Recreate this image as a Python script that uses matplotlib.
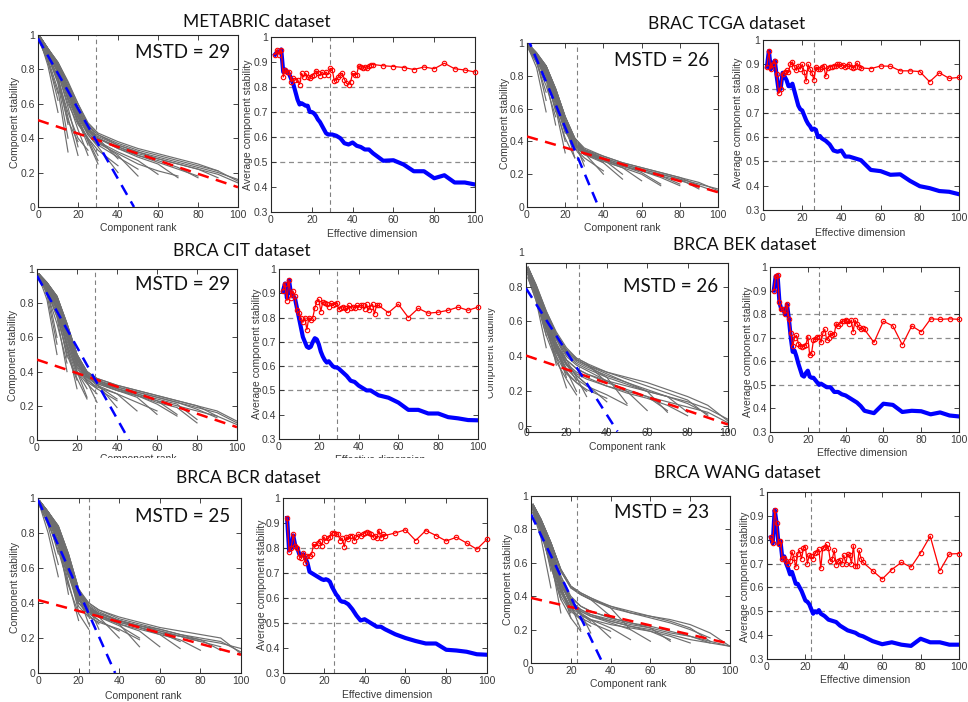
import matplotlib
matplotlib.use("Agg")
import matplotlib.pyplot as plt
from matplotlib.transforms import Bbox

plt.rcParams['font.family'] = ['Liberation Sans', 'DejaVu Sans']

# ---------------- data ----------------
red_x = list(range(2, 51)) + list(range(55, 101, 5))
blue_x = list(range(2, 31)) + list(range(32, 51, 2)) + list(range(55, 101, 5))
gray_knots = [1, 5, 10, 15, 20, 25, 30, 40, 50, 60, 70, 80, 90, 100]
left_xticks = [0, 20, 40, 60, 80, 100]

titles = ["METABRIC dataset", "BRAC TCGA dataset", "BRCA CIT dataset",
          "BRCA BEK dataset", "BRCA BCR dataset", "BRCA WANG dataset"]
mstd_values = [29, 26, 29, 26, 25, 23]

metabric_red = [0.93, 0.95, 0.93, 0.95, 0.84, 0.87, 0.86, 0.86, 0.82,
                0.835, 0.83, 0.83, 0.81, 0.855, 0.84, 0.855, 0.84, 0.835, 0.845,
                0.85, 0.865, 0.855, 0.845, 0.86, 0.85, 0.86, 0.85, 0.875, 0.87,
                0.825, 0.83, 0.84, 0.85, 0.855, 0.83, 0.815, 0.81, 0.82, 0.855,
                0.85, 0.85, 0.885, 0.88, 0.875, 0.88, 0.875, 0.885, 0.89, 0.89,
                0.885, 0.882, 0.878, 0.87, 0.88, 0.873, 0.895, 0.873, 0.868, 0.86]
metabric_blue = [0.93, 0.94, 0.94, 0.95, 0.86, 0.87, 0.86, 0.85, 0.83,
                 0.81, 0.78, 0.75, 0.73, 0.735, 0.73, 0.725, 0.725, 0.70, 0.70,
                 0.695, 0.685, 0.67, 0.66, 0.645, 0.63, 0.615, 0.61, 0.61, 0.61,
                 0.605, 0.595, 0.575, 0.57, 0.578, 0.565, 0.56, 0.55, 0.55, 0.535,
                 0.505, 0.507, 0.49, 0.463, 0.463, 0.435, 0.447, 0.418, 0.418, 0.41]
metabric_gray = [
    [0.97, 0.82, 0.55],
    [0.95, 0.85, 0.62],
    [0.96, 0.84, 0.66],
    [0.98, 0.88, 0.72, 0.40],
    [0.96, 0.86, 0.68, 0.32],
    [0.98, 0.89, 0.75, 0.48],
    [0.98, 0.90, 0.78, 0.58, 0.35],
    [0.99, 0.88, 0.76, 0.52, 0.30],
    [0.97, 0.88, 0.72, 0.50, 0.38],
    [0.98, 0.90, 0.80, 0.62, 0.45, 0.30],
    [0.97, 0.87, 0.74, 0.55, 0.40, 0.33],
    [0.99, 0.91, 0.81, 0.66, 0.50, 0.36],
    [0.99, 0.91, 0.82, 0.66, 0.52, 0.38, 0.25],
    [0.98, 0.89, 0.78, 0.60, 0.48, 0.40, 0.30],
    [0.98, 0.90, 0.79, 0.63, 0.49, 0.39, 0.27],
    [0.99, 0.92, 0.83, 0.70, 0.55, 0.42, 0.35, 0.20],
    [0.98, 0.90, 0.80, 0.64, 0.50, 0.40, 0.33, 0.24],
    [0.99, 0.92, 0.84, 0.73, 0.60, 0.48, 0.40, 0.28],
    [0.99, 0.92, 0.84, 0.72, 0.58, 0.45, 0.38, 0.30, 0.18],
    [0.98, 0.90, 0.80, 0.66, 0.52, 0.42, 0.36, 0.29, 0.22],
    [0.99, 0.91, 0.82, 0.68, 0.55, 0.44, 0.38, 0.32, 0.27, 0.19],
    [0.99, 0.92, 0.83, 0.70, 0.57, 0.46, 0.40, 0.34, 0.29, 0.25, 0.17],
    [0.98, 0.91, 0.81, 0.67, 0.53, 0.43, 0.37, 0.31, 0.25, 0.21, 0.18],
    [0.99, 0.91, 0.80, 0.66, 0.54, 0.45, 0.40, 0.35, 0.30, 0.27, 0.23, 0.17],
    [0.99, 0.91, 0.82, 0.69, 0.56, 0.46, 0.40, 0.34, 0.30, 0.26, 0.22, 0.18],
    [0.99, 0.92, 0.83, 0.70, 0.58, 0.48, 0.42, 0.36, 0.32, 0.28, 0.25, 0.22, 0.17],
    [0.99, 0.92, 0.84, 0.72, 0.60, 0.49, 0.43, 0.38, 0.34, 0.31, 0.28, 0.25, 0.21],
    [0.99, 0.92, 0.82, 0.70, 0.57, 0.47, 0.42, 0.37, 0.33, 0.30, 0.27, 0.24, 0.21, 0.15],
    [0.98, 0.90, 0.80, 0.66, 0.53, 0.44, 0.40, 0.35, 0.31, 0.28, 0.25, 0.22, 0.19, 0.14],
    [0.98, 0.91, 0.81, 0.68, 0.55, 0.45, 0.41, 0.36, 0.32, 0.29, 0.26, 0.23, 0.20, 0.16],
]
metabric_fit_blue = ([0, 48], [0.98, 0.0])
metabric_fit_red = ([0, 100], [0.505, 0.115])

tcga_red = [0.89, 0.955, 0.88, 0.90, 0.915, 0.86, 0.78, 0.80, 0.86,
            0.87, 0.875, 0.87, 0.90, 0.91, 0.89, 0.875, 0.895, 0.88, 0.90,
            0.87, 0.83, 0.90, 0.88, 0.865, 0.835, 0.89, 0.88, 0.88, 0.89,
            0.895, 0.85, 0.885, 0.89, 0.89, 0.895, 0.893, 0.90, 0.90, 0.895,
            0.897, 0.89, 0.895, 0.902, 0.89, 0.885, 0.89, 0.905, 0.89, 0.885,
            0.882, 0.893, 0.892, 0.873, 0.873, 0.87, 0.828, 0.865, 0.842, 0.846]
tcga_blue = [0.89, 0.955, 0.88, 0.90, 0.915, 0.85, 0.79, 0.80, 0.865,
             0.85, 0.835, 0.81, 0.81, 0.82, 0.79, 0.76, 0.73, 0.715, 0.71,
             0.69, 0.67, 0.655, 0.645, 0.63, 0.635, 0.63, 0.60, 0.605, 0.595,
             0.585, 0.57, 0.545, 0.54, 0.545, 0.52, 0.52, 0.515, 0.51, 0.505,
             0.465, 0.46, 0.445, 0.447, 0.42, 0.398, 0.39, 0.378, 0.375, 0.365]
tcga_gray = [
    [0.96, 0.85, 0.58],
    [0.97, 0.90, 0.65],
    [0.97, 0.88, 0.70],
    [0.98, 0.90, 0.78, 0.50],
    [0.96, 0.88, 0.74, 0.55],
    [0.99, 0.92, 0.80, 0.58],
    [0.99, 0.92, 0.82, 0.62, 0.40],
    [0.97, 0.90, 0.80, 0.60, 0.33],
    [0.98, 0.91, 0.81, 0.64, 0.45],
    [0.99, 0.93, 0.84, 0.68, 0.50, 0.30],
    [0.97, 0.89, 0.78, 0.60, 0.42, 0.30],
    [0.99, 0.94, 0.86, 0.72, 0.55, 0.40],
    [0.99, 0.93, 0.85, 0.70, 0.52, 0.40, 0.25],
    [0.98, 0.91, 0.80, 0.64, 0.46, 0.36, 0.28],
    [0.98, 0.92, 0.83, 0.67, 0.50, 0.39, 0.32],
    [0.99, 0.93, 0.85, 0.70, 0.52, 0.39, 0.33, 0.20],
    [0.98, 0.92, 0.82, 0.66, 0.47, 0.36, 0.30, 0.22],
    [0.99, 0.93, 0.86, 0.72, 0.55, 0.42, 0.35, 0.27],
    [0.99, 0.92, 0.83, 0.67, 0.48, 0.37, 0.32, 0.27, 0.17],
    [0.98, 0.93, 0.86, 0.72, 0.55, 0.42, 0.35, 0.29, 0.20],
    [0.99, 0.93, 0.84, 0.68, 0.50, 0.38, 0.33, 0.28, 0.24, 0.16],
    [0.99, 0.92, 0.82, 0.66, 0.47, 0.37, 0.32, 0.28, 0.24, 0.20, 0.13],
    [0.98, 0.92, 0.82, 0.66, 0.49, 0.39, 0.34, 0.29, 0.25, 0.21, 0.14],
    [0.99, 0.93, 0.85, 0.70, 0.52, 0.40, 0.34, 0.29, 0.25, 0.22, 0.19, 0.14],
    [0.98, 0.93, 0.84, 0.69, 0.51, 0.40, 0.34, 0.29, 0.25, 0.22, 0.18, 0.13],
    [0.99, 0.93, 0.84, 0.68, 0.50, 0.39, 0.34, 0.30, 0.26, 0.23, 0.20, 0.17, 0.11],
    [0.99, 0.94, 0.86, 0.71, 0.53, 0.41, 0.35, 0.31, 0.27, 0.24, 0.21, 0.18, 0.13],
    [0.99, 0.94, 0.86, 0.72, 0.55, 0.42, 0.36, 0.31, 0.27, 0.24, 0.21, 0.18, 0.15, 0.10],
    [0.98, 0.92, 0.82, 0.66, 0.48, 0.38, 0.33, 0.29, 0.25, 0.22, 0.19, 0.16, 0.13, 0.09],
    [0.98, 0.92, 0.83, 0.68, 0.51, 0.40, 0.35, 0.30, 0.26, 0.23, 0.20, 0.17, 0.14, 0.11],
]
tcga_fit_blue = ([0, 37.5], [1.04, 0.0])
tcga_fit_red = ([0, 100], [0.43, 0.09])

cit_red = [0.91, 0.94, 0.87, 0.955, 0.88, 0.91, 0.89, 0.83, 0.82,
           0.80, 0.78, 0.80, 0.75, 0.80, 0.79, 0.80, 0.84, 0.865, 0.875,
           0.825, 0.865, 0.86, 0.855, 0.845, 0.86, 0.85, 0.855, 0.86, 0.835,
           0.84, 0.845, 0.84, 0.83, 0.85, 0.84, 0.845, 0.84, 0.85, 0.845,
           0.85, 0.85, 0.835, 0.855, 0.83, 0.845, 0.855, 0.815, 0.85, 0.85,
           0.82, 0.855, 0.80, 0.838, 0.818, 0.822, 0.83, 0.843, 0.83, 0.843]
cit_blue = [0.91, 0.94, 0.88, 0.955, 0.90, 0.89, 0.88, 0.84, 0.80,
            0.76, 0.72, 0.70, 0.68, 0.675, 0.68, 0.70, 0.715, 0.71, 0.69,
            0.66, 0.64, 0.625, 0.615, 0.62, 0.61, 0.60, 0.595, 0.595, 0.59,
            0.575, 0.56, 0.54, 0.535, 0.52, 0.51, 0.50, 0.50, 0.49, 0.48,
            0.47, 0.45, 0.42, 0.42, 0.405, 0.405, 0.39, 0.385, 0.378, 0.377]
cit_gray = [
    [0.95, 0.82, 0.50],
    [0.96, 0.88, 0.60],
    [0.96, 0.85, 0.56],
    [0.96, 0.88, 0.72, 0.40],
    [0.95, 0.86, 0.68, 0.45],
    [0.97, 0.90, 0.76, 0.48],
    [0.97, 0.90, 0.78, 0.55, 0.30],
    [0.96, 0.88, 0.74, 0.50, 0.35],
    [0.97, 0.89, 0.76, 0.54, 0.38],
    [0.97, 0.91, 0.80, 0.60, 0.40, 0.25],
    [0.95, 0.87, 0.72, 0.52, 0.36, 0.24],
    [0.96, 0.89, 0.77, 0.56, 0.40, 0.30],
    [0.97, 0.91, 0.82, 0.64, 0.46, 0.34, 0.22],
    [0.96, 0.89, 0.76, 0.56, 0.40, 0.33, 0.27],
    [0.97, 0.90, 0.80, 0.61, 0.44, 0.36, 0.30],
    [0.97, 0.92, 0.84, 0.68, 0.50, 0.38, 0.33, 0.19],
    [0.96, 0.90, 0.78, 0.58, 0.42, 0.34, 0.30, 0.23],
    [0.97, 0.91, 0.81, 0.62, 0.45, 0.37, 0.32, 0.24],
    [0.97, 0.91, 0.82, 0.65, 0.47, 0.37, 0.32, 0.27, 0.17],
    [0.97, 0.92, 0.83, 0.66, 0.48, 0.38, 0.34, 0.29, 0.25, 0.15],
    [0.96, 0.90, 0.78, 0.60, 0.43, 0.35, 0.31, 0.27, 0.22, 0.17],
    [0.97, 0.92, 0.84, 0.68, 0.50, 0.40, 0.35, 0.30, 0.27, 0.23, 0.15],
    [0.96, 0.91, 0.81, 0.64, 0.47, 0.38, 0.34, 0.30, 0.26, 0.21, 0.14],
    [0.97, 0.91, 0.80, 0.62, 0.45, 0.37, 0.33, 0.29, 0.26, 0.22, 0.19, 0.10],
    [0.97, 0.91, 0.82, 0.64, 0.47, 0.38, 0.34, 0.30, 0.27, 0.24, 0.21, 0.12],
    [0.97, 0.92, 0.83, 0.66, 0.49, 0.39, 0.35, 0.31, 0.28, 0.25, 0.22, 0.18, 0.13],
    [0.97, 0.92, 0.84, 0.67, 0.50, 0.40, 0.36, 0.32, 0.29, 0.26, 0.23, 0.20, 0.14],
    [0.97, 0.92, 0.84, 0.68, 0.50, 0.40, 0.36, 0.32, 0.29, 0.26, 0.23, 0.20, 0.17, 0.11],
    [0.96, 0.90, 0.80, 0.62, 0.45, 0.37, 0.33, 0.29, 0.26, 0.23, 0.20, 0.17, 0.14, 0.09],
    [0.96, 0.91, 0.82, 0.65, 0.48, 0.39, 0.35, 0.31, 0.28, 0.25, 0.22, 0.19, 0.16, 0.10],
]
cit_fit_blue = ([0, 46], [0.96, 0.0])
cit_fit_red = ([0, 100], [0.47, 0.075])

bek_red = [0.90, 0.96, 0.965, 0.85, 0.82, 0.82, 0.80, 0.845, 0.78,
           0.72, 0.665, 0.70, 0.71, 0.675, 0.665, 0.66, 0.665, 0.67, 0.705,
           0.625, 0.635, 0.69, 0.695, 0.705, 0.705, 0.68, 0.72, 0.735, 0.69,
           0.70, 0.72, 0.71, 0.715, 0.76, 0.75, 0.76, 0.77, 0.77, 0.775,
           0.77, 0.76, 0.775, 0.725, 0.775, 0.76, 0.745, 0.735, 0.74, 0.735,
           0.68, 0.77, 0.75, 0.67, 0.75, 0.725, 0.78, 0.778, 0.78, 0.778]
bek_blue = [0.90, 0.96, 0.965, 0.85, 0.82, 0.82, 0.80, 0.84, 0.78,
            0.70, 0.64, 0.645, 0.62, 0.59, 0.565, 0.54, 0.535, 0.55, 0.56,
            0.535, 0.53, 0.53, 0.52, 0.51, 0.50, 0.505, 0.50, 0.495, 0.49,
            0.49, 0.47, 0.47, 0.46, 0.455, 0.445, 0.435, 0.425, 0.41, 0.39,
            0.38, 0.42, 0.415, 0.385, 0.39, 0.388, 0.375, 0.383, 0.37, 0.366]
bek_gray = [
    [0.85, 0.72, 0.45],
    [0.88, 0.75, 0.52],
    [0.87, 0.76, 0.56],
    [0.90, 0.78, 0.60, 0.35],
    [0.86, 0.74, 0.55, 0.38],
    [0.89, 0.77, 0.58, 0.42],
    [0.91, 0.80, 0.63, 0.45, 0.28],
    [0.87, 0.75, 0.56, 0.40, 0.22],
    [0.88, 0.78, 0.60, 0.43, 0.32],
    [0.90, 0.78, 0.60, 0.45, 0.32, 0.20],
    [0.85, 0.72, 0.52, 0.37, 0.27, 0.18],
    [0.90, 0.80, 0.63, 0.48, 0.36, 0.26],
    [0.91, 0.80, 0.64, 0.50, 0.38, 0.28, 0.17],
    [0.88, 0.76, 0.58, 0.42, 0.31, 0.25, 0.20],
    [0.89, 0.78, 0.61, 0.46, 0.35, 0.29, 0.24],
    [0.90, 0.79, 0.62, 0.47, 0.36, 0.29, 0.24, 0.14],
    [0.87, 0.74, 0.55, 0.40, 0.30, 0.25, 0.21, 0.16],
    [0.91, 0.81, 0.66, 0.54, 0.45, 0.39, 0.36, 0.25],
    [0.91, 0.80, 0.65, 0.52, 0.43, 0.38, 0.35, 0.28, 0.13],
    [0.88, 0.76, 0.58, 0.44, 0.33, 0.27, 0.23, 0.18, 0.12],
    [0.90, 0.79, 0.63, 0.50, 0.40, 0.35, 0.32, 0.26, 0.20, 0.09],
    [0.91, 0.80, 0.65, 0.52, 0.43, 0.38, 0.35, 0.30, 0.25, 0.20, 0.08],
    [0.89, 0.78, 0.61, 0.47, 0.38, 0.33, 0.30, 0.25, 0.21, 0.17, 0.09],
    [0.89, 0.77, 0.60, 0.46, 0.36, 0.31, 0.28, 0.23, 0.19, 0.16, 0.12, 0.06],
    [0.90, 0.80, 0.64, 0.51, 0.42, 0.37, 0.34, 0.29, 0.25, 0.21, 0.17, 0.08],
    [0.91, 0.81, 0.66, 0.53, 0.44, 0.39, 0.36, 0.31, 0.27, 0.23, 0.19, 0.15, 0.06],
    [0.90, 0.79, 0.63, 0.50, 0.41, 0.36, 0.33, 0.28, 0.24, 0.20, 0.17, 0.13, 0.07],
    [0.91, 0.80, 0.65, 0.52, 0.43, 0.38, 0.35, 0.31, 0.28, 0.25, 0.21, 0.17, 0.12, 0.03],
    [0.88, 0.76, 0.58, 0.44, 0.35, 0.30, 0.27, 0.23, 0.20, 0.17, 0.14, 0.11, 0.08, 0.02],
    [0.89, 0.77, 0.60, 0.47, 0.38, 0.33, 0.30, 0.26, 0.23, 0.20, 0.17, 0.14, 0.10, 0.04],
]
bek_fit_blue = ([0, 45.3], [0.79, -0.03])
bek_fit_red = ([0, 100], [0.405, 0.01])

bcr_red = [0.92, 0.785, 0.80, 0.855, 0.81, 0.80, 0.765, 0.76, 0.78,
           0.74, 0.77, 0.77, 0.775, 0.815, 0.81, 0.82, 0.83, 0.81, 0.845,
           0.83, 0.84, 0.845, 0.86, 0.862, 0.855, 0.855, 0.83, 0.84, 0.805,
           0.845, 0.835, 0.85, 0.85, 0.83, 0.845, 0.855, 0.85, 0.855, 0.86,
           0.865, 0.86, 0.855, 0.845, 0.85, 0.84, 0.87, 0.84, 0.855, 0.85,
           0.86, 0.873, 0.83, 0.87, 0.85, 0.828, 0.843, 0.82, 0.795, 0.835]
bcr_blue = [0.92, 0.79, 0.80, 0.85, 0.81, 0.80, 0.775, 0.77, 0.775,
            0.76, 0.74, 0.705, 0.70, 0.695, 0.69, 0.685, 0.68, 0.675, 0.672,
            0.675, 0.672, 0.665, 0.645, 0.63, 0.615, 0.605, 0.59, 0.585, 0.585,
            0.575, 0.555, 0.53, 0.51, 0.515, 0.505, 0.495, 0.485, 0.485, 0.475,
            0.455, 0.44, 0.428, 0.418, 0.418, 0.393, 0.39, 0.385, 0.375, 0.373]
bcr_gray = [
    [0.95, 0.80, 0.55],
    [0.96, 0.88, 0.68],
    [0.96, 0.84, 0.62],
    [0.97, 0.90, 0.76, 0.45],
    [0.95, 0.86, 0.70, 0.50],
    [0.97, 0.88, 0.73, 0.55],
    [0.98, 0.91, 0.80, 0.60, 0.35],
    [0.96, 0.88, 0.75, 0.52, 0.30],
    [0.97, 0.90, 0.78, 0.56, 0.40],
    [0.98, 0.92, 0.82, 0.64, 0.44, 0.28],
    [0.95, 0.85, 0.72, 0.50, 0.34, 0.25],
    [0.98, 0.91, 0.80, 0.62, 0.42, 0.33],
    [0.98, 0.92, 0.84, 0.68, 0.48, 0.38, 0.25],
    [0.96, 0.89, 0.78, 0.58, 0.40, 0.33, 0.28],
    [0.97, 0.90, 0.79, 0.60, 0.42, 0.35, 0.30],
    [0.98, 0.92, 0.83, 0.66, 0.46, 0.37, 0.32, 0.20],
    [0.97, 0.89, 0.78, 0.58, 0.40, 0.34, 0.30, 0.24],
    [0.98, 0.92, 0.84, 0.68, 0.48, 0.38, 0.33, 0.28, 0.15],
    [0.96, 0.88, 0.76, 0.56, 0.38, 0.32, 0.29, 0.25, 0.19],
    [0.98, 0.91, 0.81, 0.62, 0.43, 0.36, 0.32, 0.27, 0.20],
    [0.98, 0.91, 0.82, 0.64, 0.45, 0.37, 0.33, 0.28, 0.24, 0.15],
    [0.98, 0.92, 0.83, 0.66, 0.47, 0.39, 0.35, 0.30, 0.26, 0.22, 0.14],
    [0.97, 0.91, 0.81, 0.62, 0.44, 0.37, 0.33, 0.29, 0.26, 0.23, 0.18],
    [0.97, 0.90, 0.80, 0.60, 0.42, 0.35, 0.32, 0.28, 0.25, 0.22, 0.19, 0.13],
    [0.98, 0.91, 0.82, 0.64, 0.45, 0.38, 0.34, 0.30, 0.27, 0.24, 0.21, 0.18],
    [0.98, 0.92, 0.84, 0.68, 0.48, 0.40, 0.36, 0.31, 0.28, 0.25, 0.22, 0.19, 0.13],
    [0.98, 0.92, 0.82, 0.65, 0.46, 0.38, 0.34, 0.30, 0.27, 0.24, 0.21, 0.18, 0.15],
    [0.98, 0.92, 0.83, 0.66, 0.47, 0.40, 0.36, 0.32, 0.29, 0.26, 0.24, 0.22, 0.20, 0.11],
    [0.97, 0.90, 0.80, 0.62, 0.43, 0.36, 0.33, 0.29, 0.26, 0.23, 0.21, 0.19, 0.17, 0.14],
    [0.97, 0.91, 0.81, 0.63, 0.45, 0.38, 0.34, 0.30, 0.27, 0.25, 0.22, 0.20, 0.18, 0.12],
]
bcr_fit_blue = ([0, 38], [0.99, 0.0])
bcr_fit_red = ([0, 100], [0.417, 0.104])

wang_red = [0.81, 0.785, 0.925, 0.87, 0.78, 0.795, 0.72, 0.725, 0.71,
            0.70, 0.71, 0.75, 0.725, 0.685, 0.74, 0.755, 0.72, 0.765, 0.77,
            0.70, 0.735, 0.73, 0.72, 0.745, 0.75, 0.76, 0.68, 0.765, 0.77,
            0.78, 0.765, 0.71, 0.72, 0.755, 0.695, 0.71, 0.715, 0.70, 0.735,
            0.70, 0.74, 0.735, 0.70, 0.775, 0.69, 0.69, 0.755, 0.72, 0.705,
            0.67, 0.635, 0.675, 0.705, 0.685, 0.745, 0.815, 0.67, 0.74, 0.742]
wang_blue = [0.81, 0.785, 0.925, 0.87, 0.78, 0.795, 0.72, 0.73, 0.70,
             0.68, 0.655, 0.665, 0.64, 0.615, 0.615, 0.60, 0.585, 0.565, 0.545,
             0.54, 0.53, 0.51, 0.49, 0.50, 0.495, 0.505, 0.49, 0.485, 0.48,
             0.465, 0.46, 0.455, 0.44, 0.43, 0.42, 0.415, 0.41, 0.40, 0.395,
             0.375, 0.362, 0.37, 0.36, 0.355, 0.385, 0.37, 0.37, 0.36, 0.36]
wang_gray = [
    [0.90, 0.75, 0.45],
    [0.93, 0.82, 0.55],
    [0.92, 0.80, 0.62],
    [0.93, 0.82, 0.62, 0.30],
    [0.90, 0.78, 0.58, 0.38],
    [0.92, 0.80, 0.60, 0.44],
    [0.94, 0.84, 0.67, 0.47, 0.27],
    [0.91, 0.80, 0.60, 0.40, 0.30],
    [0.93, 0.82, 0.64, 0.44, 0.33],
    [0.94, 0.84, 0.68, 0.48, 0.35, 0.20],
    [0.90, 0.78, 0.58, 0.38, 0.27, 0.19],
    [0.92, 0.82, 0.64, 0.45, 0.33, 0.26],
    [0.94, 0.85, 0.70, 0.52, 0.38, 0.30, 0.18],
    [0.91, 0.80, 0.62, 0.42, 0.31, 0.26, 0.22],
    [0.93, 0.83, 0.66, 0.48, 0.36, 0.29, 0.25],
    [0.94, 0.84, 0.68, 0.50, 0.37, 0.30, 0.26, 0.15],
    [0.92, 0.81, 0.62, 0.43, 0.32, 0.27, 0.24, 0.19],
    [0.95, 0.86, 0.72, 0.56, 0.46, 0.41, 0.38, 0.28],
    [0.93, 0.83, 0.66, 0.48, 0.35, 0.29, 0.26, 0.21, 0.14],
    [0.95, 0.86, 0.72, 0.56, 0.46, 0.42, 0.39, 0.33, 0.20],
    [0.93, 0.83, 0.66, 0.47, 0.36, 0.31, 0.28, 0.24, 0.20, 0.13],
    [0.94, 0.85, 0.70, 0.52, 0.40, 0.34, 0.31, 0.27, 0.24, 0.21, 0.13],
    [0.93, 0.83, 0.66, 0.48, 0.37, 0.32, 0.29, 0.25, 0.22, 0.19, 0.14],
    [0.92, 0.81, 0.63, 0.44, 0.33, 0.29, 0.26, 0.23, 0.21, 0.19, 0.16, 0.12],
    [0.95, 0.86, 0.72, 0.56, 0.46, 0.42, 0.39, 0.34, 0.30, 0.28, 0.25, 0.21, 0.13],
    [0.94, 0.84, 0.68, 0.50, 0.39, 0.34, 0.31, 0.27, 0.24, 0.22, 0.19, 0.16, 0.12],
    [0.95, 0.86, 0.72, 0.55, 0.45, 0.41, 0.38, 0.33, 0.30, 0.27, 0.24, 0.20, 0.15],
    [0.95, 0.86, 0.72, 0.55, 0.45, 0.41, 0.38, 0.34, 0.31, 0.28, 0.26, 0.23, 0.18, 0.10],
    [0.93, 0.83, 0.66, 0.48, 0.37, 0.32, 0.29, 0.26, 0.23, 0.21, 0.18, 0.16, 0.13, 0.10],
    [0.93, 0.82, 0.65, 0.47, 0.36, 0.31, 0.28, 0.25, 0.22, 0.20, 0.17, 0.14, 0.12, 0.10],
]
wang_fit_blue = ([0, 36], [0.89, 0.0])
wang_fit_red = ([0, 100], [0.39, 0.115])

datasets = [
    (metabric_gray, metabric_fit_blue, metabric_fit_red, metabric_red, metabric_blue),
    (tcga_gray, tcga_fit_blue, tcga_fit_red, tcga_red, tcga_blue),
    (cit_gray, cit_fit_blue, cit_fit_red, cit_red, cit_blue),
    (bek_gray, bek_fit_blue, bek_fit_red, bek_red, bek_blue),
    (bcr_gray, bcr_fit_blue, bcr_fit_red, bcr_red, bcr_blue),
    (wang_gray, wang_fit_blue, wang_fit_red, wang_red, wang_blue),
]

# ---------------- layout (pixel boxes) ----------------
W, H = 968, 702
left_boxes = [(38, 35, 238, 207), (527, 43, 718, 207), (37, 269, 237, 440),
              (526, 263, 728, 432), (38, 498, 241, 673), (531, 496, 730, 663)]
right_boxes = [(271, 37, 475, 212), (763, 40, 959, 210), (279, 269, 478, 439),
               (770, 267, 959, 432), (283, 498, 487, 673), (767, 492, 959, 659)]
title_pos = [(257, 22), (727, 24), (242, 251), (745, 245), (248, 478), (737, 473)]
mstd_pos = [(230, 52), (709, 61), (230, 285), (718, 287), (230, 517), (709, 513)]
xlabel_left_pos = [(138, 228), (622, 228), (138, 459), (627, 447), (143, 696), (628, 684)]
xlabel_right_pos = [(372, 234), (860, 233), (380, 460), (862, 453), (387, 695), (865, 680)]
ylabel_left_pos = [(15, 122), (505, 123), (13, 355), (491, 352), (15, 587), (508, 579)]
ylabel_right_pos = [(248, 125), (738, 123), (257, 354), (748, 352), (262, 585), (745, 577)]

fig = plt.figure(figsize=(W / 100, H / 100), dpi=100)
fig.patch.set_facecolor('white')

AX_COL = '#262626'
LBL_COL = '#3a3a3a'


def px_axes(box):
    x0, y0, x1, y1 = box
    return fig.add_axes([x0 / W, 1 - y1 / H, (x1 - x0) / W, (y1 - y0) / H])


def style(ax, pad=2.0):
    for s in ax.spines.values():
        s.set_color(AX_COL)
        s.set_linewidth(0.8)
    ax.tick_params(direction='in', top=True, right=True, length=3.5, width=0.6,
                   color=AX_COL, labelcolor=LBL_COL, labelsize=7.5, pad=pad)


def ftext(x, y, s, **kw):
    return fig.text(x / W, 1 - y / H, s, **kw)


def fmt(v):
    return ('%g' % v)


for i, (gray, fitb, fitr, red, blue) in enumerate(datasets):
    mstd = mstd_values[i]
    # ---- left panel ----
    axl = px_axes(left_boxes[i])
    for curve in gray:
        axl.plot(gray_knots[:len(curve)], curve, color='#6e6e6e', lw=0.85, zorder=1)
    axl.plot(fitr[0], fitr[1], color='red', lw=1.8, ls=(0, (4.5, 3)), zorder=3)
    axl.plot(fitb[0], fitb[1], color='blue', lw=1.8, ls=(0, (4.5, 3)), zorder=3)
    axl.axvline(mstd, color='#808080', lw=0.8, ls=(0, (4, 3)), zorder=2)
    axl.set_xlim(0, 100)
    if i == 3:
        axl.set_ylim(-0.033, 0.935)
        lticks = [0, 0.2, 0.4, 0.6, 0.8]
        style(axl)
        axl.tick_params(axis='x', pad=-3.0)
        ftext(521, 253, '1', ha='center', va='center', fontsize=7.5, color=LBL_COL)
    else:
        axl.set_ylim(0, 1)
        lticks = [0, 0.2, 0.4, 0.6, 0.8, 1]
        style(axl)
    axl.set_yticks(lticks)
    axl.set_yticklabels([fmt(v) for v in lticks])
    axl.set_xticks(left_xticks)
    axl.set_xticklabels([str(v) for v in left_xticks])

    # ---- right panel ----
    axr = px_axes(right_boxes[i])
    for g in [0.5, 0.6, 0.7, 0.8]:
        axr.axhline(g, color='#8c8c8c', lw=0.9, ls=(0, (4, 3)), zorder=1)
    axr.axvline(mstd, color='#808080', lw=0.8, ls=(0, (4, 3)), zorder=1)
    axr.plot(blue_x, blue, color='blue', lw=3.0, zorder=2, solid_joinstyle='round')
    axr.plot(red_x, red, color='red', lw=0.9, marker='o', ms=3.2, mfc='none',
             mew=0.8, zorder=3, clip_on=False)
    axr.set_xlim(0, 100)
    axr.set_ylim(0.3, 1)
    rticks = [0.3, 0.4, 0.5, 0.6, 0.7, 0.8, 0.9, 1]
    axr.set_yticks(rticks)
    axr.set_yticklabels([fmt(v) for v in rticks])
    axr.set_xticks(left_xticks)
    axr.set_xticklabels([str(v) for v in left_xticks])
    style(axr)

    # ---- texts ----
    tx, ty = title_pos[i]
    ftext(tx, ty, titles[i], ha='center', va='center', fontsize=12.5,
          family=['Lato', 'DejaVu Sans'], color='#111111')
    mx, my = mstd_pos[i]
    ftext(mx, my, 'MSTD = %d' % mstd, ha='right', va='center', fontsize=13.5,
          family=['Lato', 'DejaVu Sans'], color='#111111')

    clip_box = None
    if i in (2,):
        clip_box = Bbox.from_extents(0, H - 458, W, H)
    for (px, py), s in [(xlabel_left_pos[i], 'Component rank'),
                        (xlabel_right_pos[i], 'Effective dimension')]:
        t = ftext(px, py, s, ha='center', va='center', fontsize=7.5, color=LBL_COL)
        if clip_box is not None:
            t.set_clip_box(clip_box)
            t.set_clip_on(True)
    t = ftext(ylabel_left_pos[i][0], ylabel_left_pos[i][1], 'Component stability',
              ha='center', va='center', rotation=90, fontsize=7.5, color=LBL_COL)
    if i == 3:
        t.set_clip_box(Bbox.from_extents(488, 0, W, H))
        t.set_clip_on(True)
    ftext(ylabel_right_pos[i][0], ylabel_right_pos[i][1], 'Average component stability',
          ha='center', va='center', rotation=90, fontsize=7.5, color=LBL_COL)

fig.savefig('out.png', dpi=100, facecolor='white')
